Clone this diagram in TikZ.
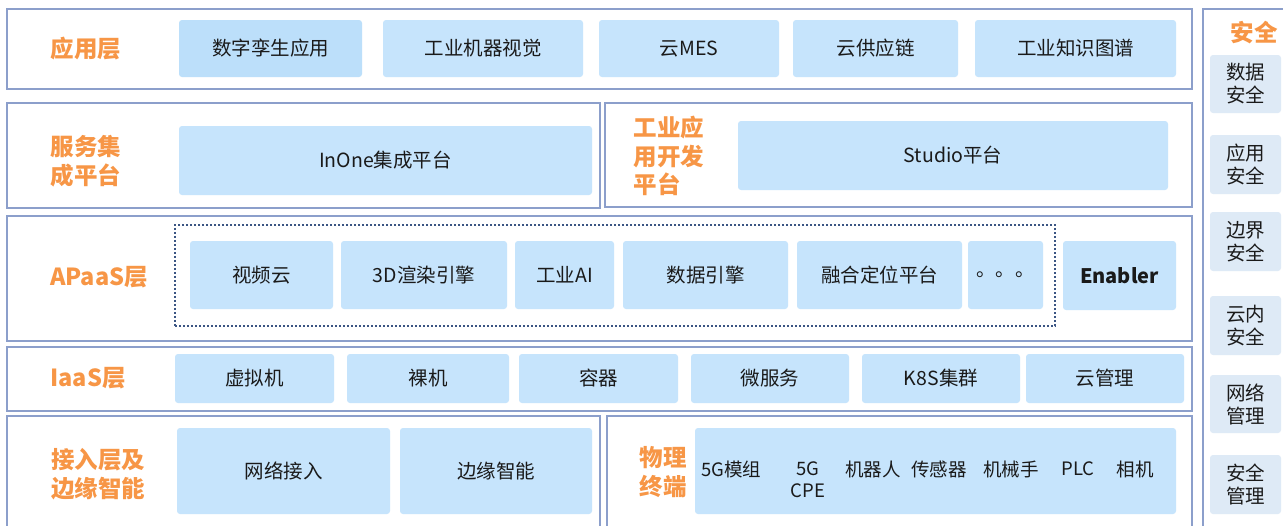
\documentclass[tikz,border=0pt]{standalone}
\usepackage{fontspec}
\setmainfont{Noto Sans CJK SC}
\definecolor{frame}{HTML}{8C9FCB}
\definecolor{tilec}{HTML}{C6E4FC}
\definecolor{tiledk}{HTML}{BCDFFA}
\definecolor{secc}{HTML}{DEEAF6}
\definecolor{orng}{HTML}{F79646}
\definecolor{ink}{HTML}{1A1A1A}
\definecolor{dotc}{HTML}{3B5583}
\newcommand\bx[7]{\node[#1,minimum width={(#5-#3)*1pt},minimum height={(#6-#4)*1pt}] (#2) at ({(#3+#5)/2},{(#4+#6)/2}) {#7};}
\tikzset{
  layer/.style={draw=frame, line width=1.5pt, fill=white, inner sep=0pt},
  dotbox/.style={draw=dotc, line width=2pt, dash pattern=on 1.8pt off 2.2pt, inner sep=0pt},
  tile/.style={fill=tilec, rounded corners=3pt, inner sep=0pt, text=ink, align=center, font=\fontsize{19.5}{23}\selectfont},
  tiledark/.style={tile, fill=tiledk},
  sectile/.style={tile, fill=secc, font=\fontsize{19.5}{23}\selectfont},
  lbl/.style={text=orng, inner sep=0pt, align=left, font=\fontsize{23.5}{28.5}\selectfont\bfseries},
  item/.style={text=ink, inner sep=0pt, align=center, font=\fontsize{18.5}{22}\selectfont}
}
\begin{document}
\begin{tikzpicture}[x=1pt,y=-1pt]
\clip (0,0) rectangle (1283,525);
\fill[white] (0,0) rectangle (1283,525);
% layer frames
\bx{layer}{Lapp}{7}{9}{1192}{89}{}
\bx{layer}{Lsvc}{7}{103}{600}{208}{}
\bx{layer}{Ldev}{605}{103}{1192}{207}{}
\bx{layer}{Lpaas}{7}{216}{1192}{341}{}
\bx{layer}{Liaas}{7}{347}{1192}{411}{}
\bx{layer}{Lacc}{7}{416}{600}{540}{}
\bx{layer}{Lterm}{607}{416}{1192}{540}{}
\bx{layer}{Lsec}{1203}{9}{1300}{540}{}
\bx{dotbox}{Dot}{175}{225}{1055}{326}{}
% labels
\node[lbl] (tApp) at (86,49) {应用层};
\node[lbl] (tSvc) at (86,161) {服务集\\成平台};
\node[lbl] (tDev) at (669,156) {工业应\\用开发\\平台};
\node[lbl] (tPaas) at (99,277) {APaaS层};
\node[lbl] (tIaas) at (88,378) {IaaS层};
\node[lbl] (tAcc) at (98,474) {接入层及\\边缘智能};
\node[lbl] (tTerm) at (663,472) {物理\\终端};
\node[lbl] (tSec) at (1254,33) {安全};
% application layer
\bx{tiledark}{A1}{179}{20}{362}{77}{数字孪生应用}
\bx{tile}{A2}{383}{20}{583}{77}{工业机器视觉}
\bx{tile}{A3}{599}{20}{779}{77}{云MES}
\bx{tile}{A4}{793}{20}{958}{77}{云供应链}
\bx{tile}{A5}{975}{20}{1176}{77}{工业知识图谱}
% service
\bx{tile}{InOne}{179}{126}{592}{195}{InOne集成平台}
\bx{tile}{Studio}{738}{121}{1168}{190}{Studio平台}
% APaaS
\bx{tile}{P1}{190}{241}{333}{309}{视频云}
\bx{tile}{P2}{341}{241}{507}{309}{3D渲染引擎}
\bx{tile}{P3}{515}{241}{614}{309}{工业AI}
\bx{tile}{P4}{623}{241}{788}{309}{数据引擎}
\bx{tile}{P5}{797}{241}{962}{309}{融合定位平台}
\bx{tile}{P6}{968}{241}{1043}{309}{。。。}
\bx{tile,font=\fontsize{20}{24}\selectfont\bfseries}{P7}{1063}{241}{1176}{310}{Enabler}
% IaaS
\bx{tile}{I1}{175}{354}{334}{403}{虚拟机}
\bx{tile}{I2}{347}{354}{509}{403}{裸机}
\bx{tile}{I3}{519}{354}{678}{403}{容器}
\bx{tile}{I4}{691}{354}{849}{403}{微服务}
\bx{tile}{I5}{862}{354}{1020}{403}{K8S集群}
\bx{tile}{I6}{1026}{354}{1184}{403}{云管理}
% access
\bx{tile}{N1}{177}{428}{390}{514}{网络接入}
\bx{tile}{N2}{400}{428}{592}{514}{边缘智能}
\bx{tile}{Term}{695}{428}{1176}{514}{}
\node[item] (e1) at (731,469) {5G模组};
\node[item] (e2) at (808,480) {5G\\CPE};
\node[item] (e3) at (873,469) {机器人};
\node[item] (e4) at (939,469) {传感器};
\node[item] (e5) at (1011,469) {机械手};
\node[item] (e6) at (1078,469) {PLC};
\node[item] (e7) at (1135,469) {相机};
% security
\bx{sectile}{S1}{1210}{55}{1281}{113}{数据\\安全}
\bx{sectile}{S2}{1210}{135}{1281}{194}{应用\\安全}
\bx{sectile}{S3}{1210}{212}{1281}{271}{边界\\安全}
\bx{sectile}{S4}{1210}{296}{1281}{355}{云内\\安全}
\bx{sectile}{S5}{1210}{375}{1281}{433}{网络\\管理}
\bx{sectile}{S6}{1210}{455}{1281}{514}{安全\\管理}
\end{tikzpicture}
\end{document}
